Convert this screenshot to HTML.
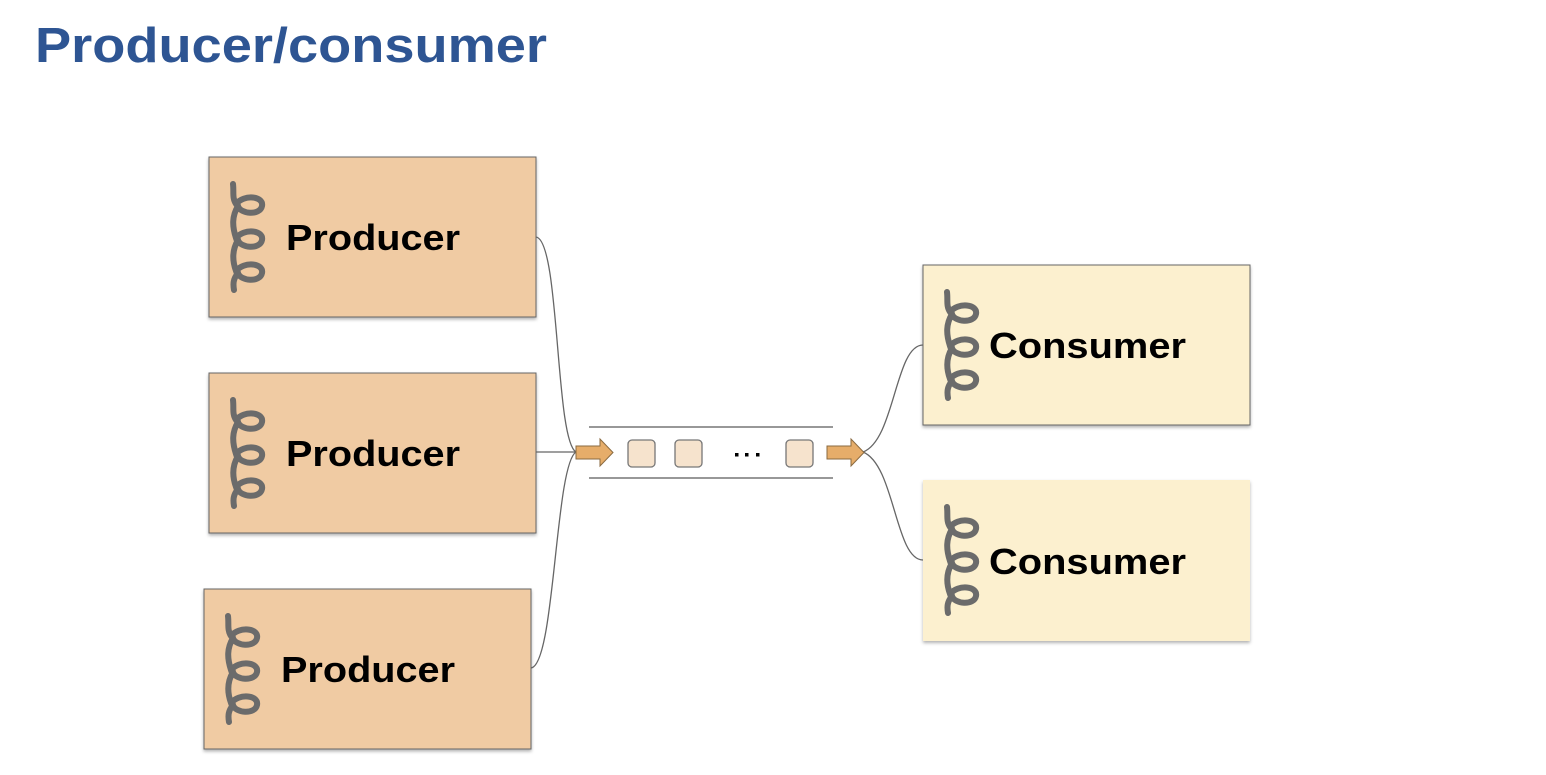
<!DOCTYPE html>
<html><head><style>
html,body{margin:0;padding:0;background:#fff;}
</style></head><body>
<svg width="1546" height="770" viewBox="0 0 1546 770" xmlns="http://www.w3.org/2000/svg" font-family="'Liberation Sans', sans-serif">
<defs>
<filter id="sh" x="-5%" y="-5%" width="110%" height="115%"><feDropShadow dx="0" dy="2" stdDeviation="1.5" flood-color="#000" flood-opacity="0.3"/></filter>
<g id="sp" fill="none" stroke="#6b6b6b" stroke-width="6" stroke-linecap="round">
<path d="M3,0 C4,8 2,14 6,20 C14,10 34,12 32,22 C30,32 10,30 8,22 C2,32 2,42 6,54 C14,44 34,46 32,56 C30,66 10,64 8,56 C2,66 2,76 6,87 C14,77 34,79 32,89 C30,99 10,97 8,89 C3,95 3,100 4,106"/>
</g>
</defs>
<text x="35" y="62" font-size="49" font-weight="bold" fill="#2e5593" textLength="512" lengthAdjust="spacingAndGlyphs">Producer/consumer</text>

<g fill="#f0cba3" stroke="#666" stroke-width="1" filter="url(#sh)">
<rect x="209" y="157" width="327" height="160"/>
<rect x="209" y="373" width="327" height="160"/>
<rect x="204" y="589" width="327" height="160"/>
</g>
<g fill="#fcf0cf" stroke="#666" stroke-width="1" filter="url(#sh)">
<rect x="923" y="265" width="327" height="160"/>
<rect x="923" y="480" width="327" height="161" stroke="none"/>
</g>
<use href="#sp" x="230" y="184"/>
<use href="#sp" x="230" y="400"/>
<use href="#sp" x="225" y="616"/>
<use href="#sp" x="944" y="292"/>
<use href="#sp" x="944" y="507"/>
<g font-size="36" font-weight="bold" fill="#000" lengthAdjust="spacingAndGlyphs">
<text x="286" y="250" textLength="174" lengthAdjust="spacingAndGlyphs">Producer</text>
<text x="286" y="466" textLength="174" lengthAdjust="spacingAndGlyphs">Producer</text>
<text x="281" y="682" textLength="174" lengthAdjust="spacingAndGlyphs">Producer</text>
<text x="989" y="358" textLength="197" lengthAdjust="spacingAndGlyphs">Consumer</text>
<text x="989" y="574" textLength="197" lengthAdjust="spacingAndGlyphs">Consumer</text>
</g>
<g fill="none" stroke="#666" stroke-width="1.3">
<path d="M536,237 C560,240 555,440 576,452"/>
<path d="M536,452 L576,452"/>
<path d="M531,668 C555,665 555,465 576,452"/>
<path d="M863,452 C895,440 895,345 923,345"/>
<path d="M863,452 C895,465 895,560 923,560"/>
<line x1="589" y1="427" x2="833" y2="427" stroke="#777" stroke-width="1.5"/>
<line x1="589" y1="478" x2="833" y2="478" stroke="#777" stroke-width="1.5"/>
</g>
<g fill="#e6ad6a" stroke="#8a6a40" stroke-width="1">
<path d="M576,446 L600,446 L600,439 L613,452.5 L600,466 L600,459 L576,459 Z"/>
<path d="M827,446 L851,446 L851,439 L864,452.5 L851,466 L851,459 L827,459 Z"/>
</g>
<g fill="#f6e3cd" stroke="#777" stroke-width="1.3">
<rect x="628" y="440" width="27" height="27" rx="4"/>
<rect x="675" y="440" width="27" height="27" rx="4"/>
<rect x="786" y="440" width="27" height="27" rx="4"/>
</g>
<g fill="#000">
<rect x="735" y="453" width="3.5" height="3.5"/>
<rect x="745" y="453" width="3.5" height="3.5"/>
<rect x="756" y="453" width="3.5" height="3.5"/>
</g>
</svg>
</body></html>
